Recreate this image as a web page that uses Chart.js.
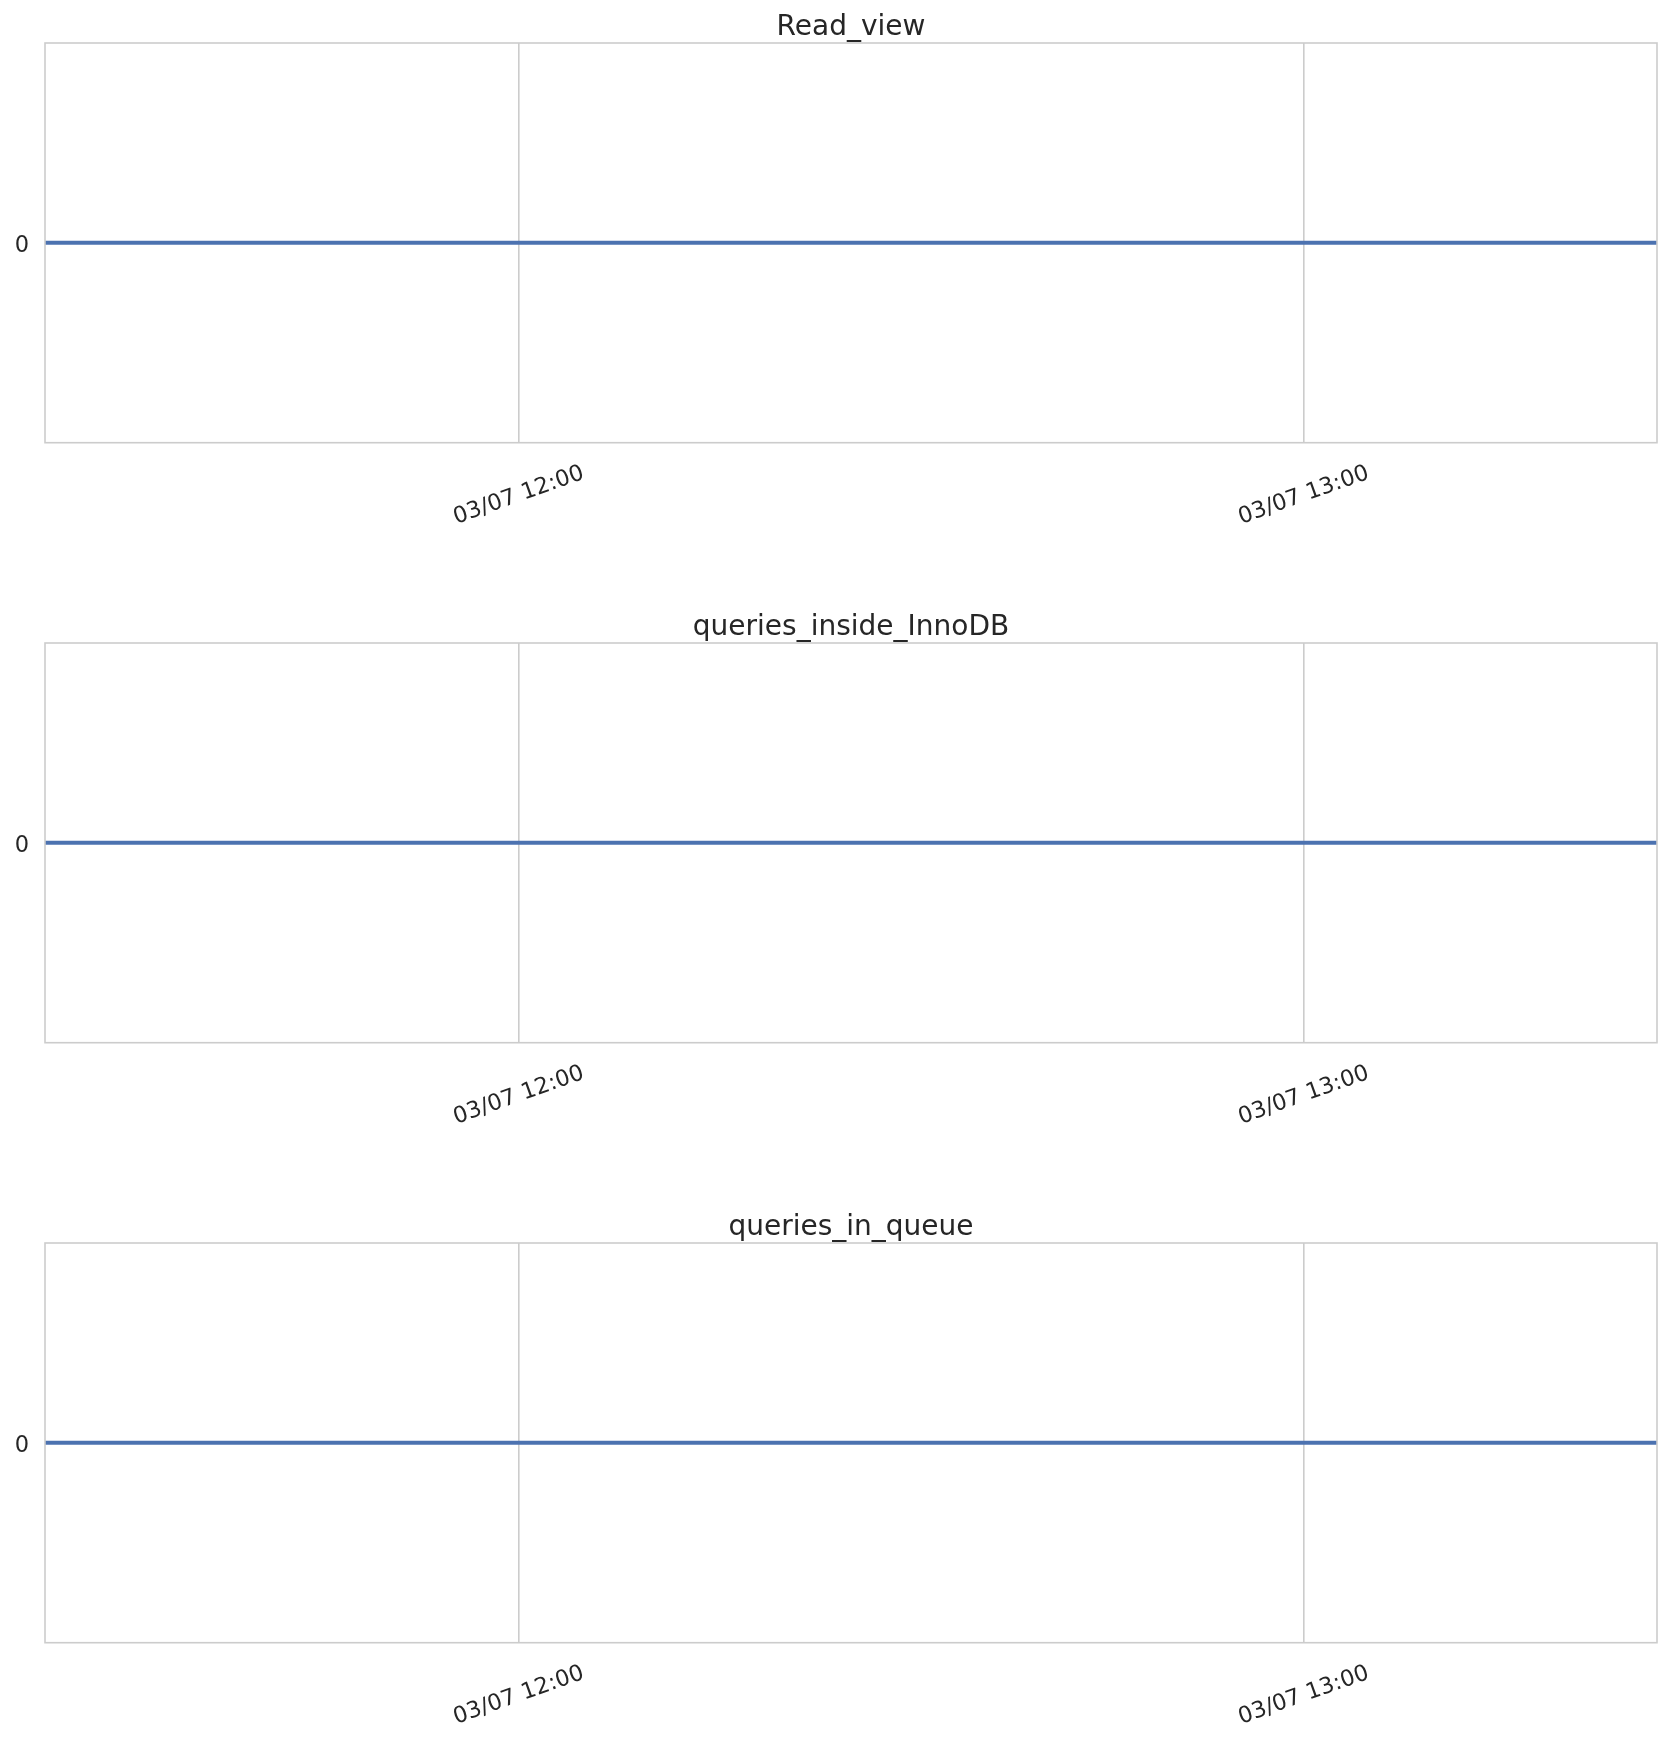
<!DOCTYPE html>
<html>
<head>
<meta charset="utf-8">
<script src="https://cdn.jsdelivr.net/npm/chart.js@4.4.1/dist/chart.umd.min.js"></script>
<style>
  html, body { margin: 0; padding: 0; background: #ffffff; }
  body { width: 1669px; height: 1742px; overflow: hidden; position: relative; }
  .panel { position: absolute; left: 0; width: 1669px; }
  canvas { display: block; }
</style>
</head>
<body>
<div class="panel" style="top:0px;height:600px"><canvas id="c0" width="1669" height="600"></canvas></div>
<div class="panel" style="top:600px;height:600px"><canvas id="c1" width="1669" height="600"></canvas></div>
<div class="panel" style="top:1200px;height:542px"><canvas id="c2" width="1669" height="542"></canvas></div>
<script>
// ---- data ----
const panelTitles = ["Read_view", "queries_inside_InnoDB", "queries_in_queue"];
const sampleTimes = ["11:23:46", "11:35:00", "11:50:00", "12:05:00", "12:20:00", "12:35:00", "12:50:00", "13:05:00", "13:20:00", "13:26:59"];
const readViewValues        = [0, 0, 0, 0, 0, 0, 0, 0, 0, 0];
const queriesInsideValues   = [0, 0, 0, 0, 0, 0, 0, 0, 0, 0];
const queriesInQueueValues  = [0, 0, 0, 0, 0, 0, 0, 0, 0, 0];
const xTickTimes  = ["12:00:00", "13:00:00"];
const xTickLabels = ["03/07 12:00", "03/07 13:00"];
const yTickValues = [0];
const yTickLabels = ["0"];

const seriesList = [readViewValues, queriesInsideValues, queriesInQueueValues];

function toMinutes(t) {
  const p = t.split(":").map(Number);
  return p[0] * 60 + p[1] + (p[2] || 0) / 60;
}

const TEXT = "#262626";
const GRID = "#cccccc";
const LINE = "#4c72b0";
const FONT = "'DejaVu Sans', sans-serif";
const PLOT_BOTTOM = 442.7;
const XFONT = 22.5;

const frameAndLabels = {
  id: "frameAndLabels",
  afterLayout(chart) {
    // let the y tick labels use the space left of the plot
    chart.scales.y.left = 0;
  },
  afterDraw(chart) {
    const ctx = chart.ctx;
    const a = chart.chartArea;
    ctx.save();
    ctx.strokeStyle = GRID;
    ctx.lineWidth = 1.6;
    ctx.strokeRect(a.left, a.top, a.right - a.left, a.bottom - a.top);
    const xs = chart.scales.x;
    ctx.fillStyle = TEXT;
    ctx.font = XFONT + "px " + FONT;
    ctx.textAlign = "center";
    ctx.textBaseline = "alphabetic";
    xTickTimes.forEach((t, i) => {
      const px = xs.getPixelForValue(toMinutes(t));
      ctx.save();
      ctx.translate(px - 1, a.bottom + 50.6);
      ctx.rotate(-19.5 * Math.PI / 180);
      ctx.fillText(xTickLabels[i], 0, 0.365 * XFONT);
      ctx.restore();
    });
    ctx.restore();
  }
};

seriesList.forEach((vals, idx) => {
  const canvas = document.getElementById("c" + idx);
  const H = canvas.height;
  const pts = sampleTimes.map((t, i) => ({ x: toMinutes(t), y: vals[i] }));
  new Chart(canvas, {
    type: "line",
    data: {
      datasets: [{
        data: pts,
        borderColor: LINE,
        borderWidth: 4,
        pointRadius: 0,
        fill: false,
        tension: 0
      }]
    },
    options: {
      responsive: false,
      animation: false,
      devicePixelRatio: 1,
      layout: { padding: { left: 45, right: 12, top: 0, bottom: 0 } },
      plugins: {
        legend: { display: false },
        tooltip: { enabled: false },
        title: {
          display: true,
          text: panelTitles[idx],
          color: TEXT,
          font: { family: FONT, size: 28, weight: "normal", lineHeight: 31 / 28 },
          padding: { top: 12, bottom: 0 }
        }
      },
      scales: {
        x: {
          type: "linear",
          min: toMinutes(sampleTimes[0]),
          max: toMinutes(sampleTimes[sampleTimes.length - 1]),
          afterBuildTicks: (s) => { s.ticks = xTickTimes.map(t => ({ value: toMinutes(t) })); },
          afterFit: (s) => { s.height = H - PLOT_BOTTOM; },
          ticks: { display: false },
          grid: { display: true, color: GRID, lineWidth: 1.6, drawTicks: false },
          border: { display: false }
        },
        y: {
          type: "linear",
          min: -1,
          max: 1,
          afterBuildTicks: (s) => { s.ticks = yTickValues.map(v => ({ value: v })); },
          afterFit: (s) => { s.width = 0; },
          ticks: {
            padding: 16,
            labelOffset: 3,
            color: TEXT,
            font: { family: FONT, size: 22.5 },
            callback: (v) => { const i = yTickValues.indexOf(v); return i >= 0 ? yTickLabels[i] : ""; }
          },
          grid: { display: true, color: GRID, lineWidth: 1.6, drawTicks: false },
          border: { display: false }
        }
      }
    },
    plugins: [frameAndLabels]
  });
});
</script>
</body>
</html>
